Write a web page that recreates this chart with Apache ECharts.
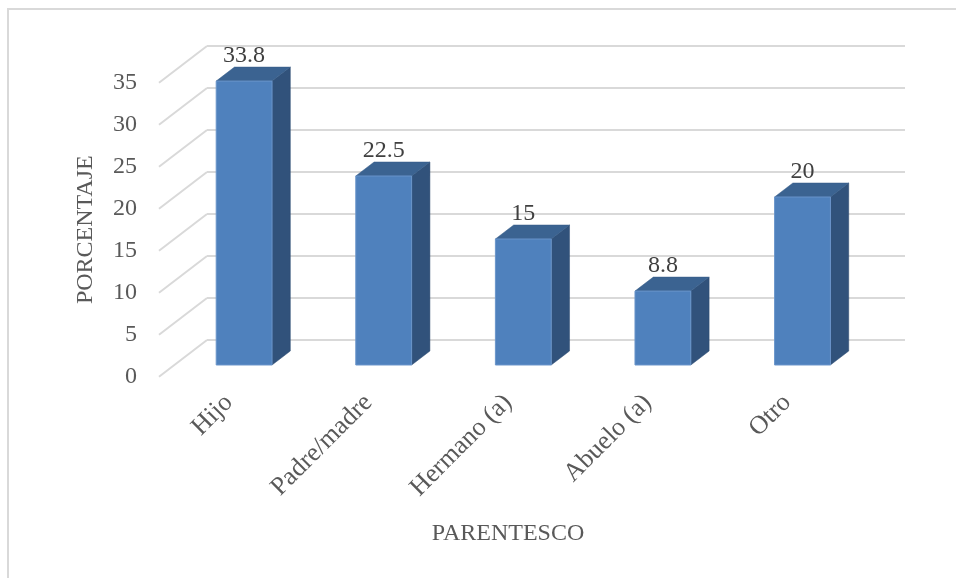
<!DOCTYPE html>
<html>
<head>
<meta charset="utf-8">
<script src="https://cdn.jsdelivr.net/npm/echarts@6/dist/echarts.min.js"></script>
<style>html,body{margin:0;padding:0;background:#fff}#c{width:956px;height:578px}</style>
</head>
<body>
<div id="c"></div>
<script>
const categories = ['Hijo', 'Padre/madre', 'Hermano (a)', 'Abuelo (a)', 'Otro'];
const values = [33.8, 22.5, 15, 8.8, 20];
const gridTicks = [0, 5, 10, 15, 20, 25, 30, 35];
const yAxisName = 'PORCENTAJE';
const xAxisName = 'PARENTESCO';

const FONT = 'Liberation Serif';
const DX = 48, DY = -36.7;   // depth vector (front floor -> back wall)
const A = 0.319, B = 0.70;   // bar depth fractions

const chart = echarts.init(document.getElementById('c'));

function renderGrid(params, api) {
  const v = api.value(1);
  const cs = params.coordSys;
  const y = api.coord([0, v])[1];
  const x0 = cs.x;
  const style = { stroke: '#D9D9D9', lineWidth: 2, fill: null };
  return {
    type: 'group',
    children: [
      { type: 'line', shape: { x1: x0, y1: y, x2: x0 + DX, y2: y + DY }, style },
      { type: 'line', shape: { x1: x0 + DX, y1: y + DY, x2: x0 + cs.width + DX, y2: y + DY }, style }
    ]
  };
}

function renderBar(params, api) {
  const idx = api.value(0), v = api.value(1);
  const top = api.coord([idx, v]);
  const base = api.coord([idx, 0]);
  const band = api.size([1, 0])[0];
  const w = band * 0.4;
  const fx = top[0] - w / 2 + DX * A;
  const fy0 = base[1] + DY * A;
  const fy1 = top[1] + DY * A;
  const bx = DX * (B - A), by = DY * (B - A);
  return {
    type: 'group',
    children: [
      { type: 'polygon', shape: { points: [[fx + w, fy1], [fx + w + bx, fy1 + by], [fx + w + bx, fy0 + by], [fx + w, fy0]] },
        style: { fill: '#31527B', stroke: '#2C4A70', lineWidth: 0.5 } },
      { type: 'polygon', shape: { points: [[fx, fy1], [fx + bx, fy1 + by], [fx + w + bx, fy1 + by], [fx + w, fy1]] },
        style: { fill: '#3B6391', stroke: '#355A86', lineWidth: 0.5 } },
      { type: 'rect', shape: { x: fx, y: fy1, width: w, height: fy0 - fy1 },
        style: { fill: '#4F81BD', stroke: '#6A95CA', lineWidth: 1 } },
      { type: 'text', style: { x: fx + w / 2, y: fy1 + by - 11, text: String(values[idx]),
        fill: '#404040', font: '24px "' + FONT + '"', align: 'center', verticalAlign: 'middle' } }
    ]
  };
}

chart.setOption({
  animation: false,
  graphic: [{ type: 'rect', shape: { x: 8, y: 9, width: 960, height: 580 },
    style: { fill: null, stroke: '#D9D9D9', lineWidth: 2 } }],
  grid: { left: 159, right: 99, top: 82.7, bottom: 201.3 },
  xAxis: {
    type: 'category', data: categories,
    axisLine: { show: false }, axisTick: { show: false }, splitLine: { show: false },
    axisLabel: { rotate: 45, margin: 22, color: '#595959', fontFamily: FONT, fontSize: 26, interval: 0 },
    name: xAxisName, nameLocation: 'middle', nameGap: 145,
    nameTextStyle: { color: '#595959', fontFamily: FONT, fontSize: 24, verticalAlign: 'top' }
  },
  yAxis: {
    type: 'value', min: 0, max: 35, interval: 5,
    axisLine: { show: false }, axisTick: { show: false }, splitLine: { show: false },
    axisLabel: { margin: 22, color: '#595959', fontFamily: FONT, fontSize: 24 },
    name: yAxisName, nameLocation: 'middle', nameGap: 61,
    nameTextStyle: { color: '#595959', fontFamily: FONT, fontSize: 24 }
  },
  series: [
    { type: 'custom', renderItem: renderGrid, data: gridTicks.map(t => [0, t]), z: 1, silent: true },
    { type: 'custom', renderItem: renderBar, data: values.map((v, i) => [i, v]), z: 2 }
  ]
});
</script>
</body>
</html>
